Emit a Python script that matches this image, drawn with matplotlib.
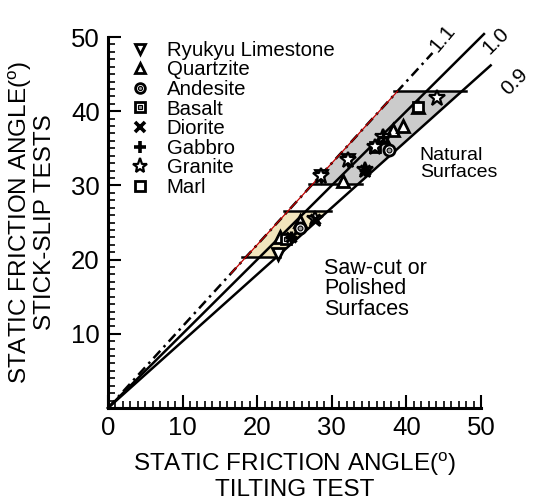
#!/usr/bin/env python3
import numpy as np
import matplotlib
matplotlib.use('agg')
import matplotlib.pyplot as plt
from matplotlib.lines import Line2D

plt.rcParams['font.family'] = ['Liberation Sans', 'DejaVu Sans']
plt.rcParams['mathtext.fontset'] = 'custom'
plt.rcParams['mathtext.rm'] = 'Liberation Sans'

# measured friction angles (tilting test, stick-slip test)
ryukyu_x = [22.8, 28.6, 32.2]
ryukyu_y = [20.8, 31.3, 33.4]
quartz_x = [23.1, 25.7, 31.5, 36.9, 38.2, 39.5, 41.6]
quartz_y = [23.0, 25.2, 30.6, 36.5, 37.4, 38.0, 40.5]
andes_x = [25.7, 37.7]
andes_y = [24.3, 34.8]
basalt_x = [23.9]
basalt_y = [22.8]
diorite_x = [24.6, 27.7, 34.5]
diorite_y = [23.0, 25.5, 32.1]
gabbro_x = [24.6, 34.5, 36.9]
gabbro_y = [23.0, 32.1, 36.5]
granite_x = [27.7, 28.6, 32.2, 34.5, 35.8, 36.9, 44.1]
granite_y = [25.5, 31.3, 33.4, 32.1, 35.2, 36.5, 41.8]
marl_x = [35.8, 41.6]
marl_y = [35.2, 40.5]

# ratio lines and their end points
ratios = [1.1, 1.0, 0.9]
ratio_ends = [43.5, 50.4, 51.3]

# bands: saw-cut (beige) and natural (gray)
sawcut_band = [20.3, 26.5]
natural_band = [30.2, 42.7]

major = np.arange(0, 51, 10)
minor = np.arange(0, 51, 1)

fig = plt.figure(figsize=(5.34, 5.0), dpi=100)
ax = fig.add_axes([0.2022, 0.184, 0.6985, 0.742])

def band(lo, hi, color):
    xs = [lo / 1.1, hi / 1.1, hi / 0.9, lo / 0.9]
    ys = [lo, hi, hi, lo]
    ax.fill(xs, ys, color=color, zorder=1, lw=0)
    ax.plot([lo / 1.1 - 0.5, lo / 0.9 + 0.5], [lo, lo], color='k', lw=1.8, zorder=2)
    ax.plot([hi / 1.1 - 0.5, hi / 0.9 + 0.5], [hi, hi], color='k', lw=1.8, zorder=2)

band(*sawcut_band, '#f1e5bd')
band(*natural_band, '#cbcbcb')

# red guide along the 1.1 line
xr = np.array([16.5, natural_band[1] / 1.1])
ax.plot(xr, 1.1 * xr, color='#c00000', lw=0.9, zorder=3)

for r, xe in zip(ratios, ratio_ends):
    xx = np.array([0, xe])
    ls = (0, (4, 2, 1, 2)) if r == 1.1 else '-'
    ax.plot(xx, r * xx, color='k', lw=1.8, ls=ls, zorder=2.5, clip_on=False)

ax.text(44.8, 49.8, '1.1', fontsize=15, rotation=50, ha='center', va='center')
ax.text(52.0, 49.5, '1.0', fontsize=15, rotation=45, ha='center', va='center')
ax.text(54.5, 44.0, '0.9', fontsize=15, rotation=45, ha='center', va='center')

mk = dict(ls='none', mfc='white', mec='k', mew=2.0, ms=8.5, zorder=5)
ax.plot(ryukyu_x, ryukyu_y, marker='v', **mk)
ax.plot(quartz_x, quartz_y, marker='^', **mk)
ax.plot(marl_x, marl_y, marker='s', **{**mk, 'ms': 7.5})
ax.plot(basalt_x, basalt_y, marker='s', **{**mk, 'ms': 7.5})
ax.plot(basalt_x, basalt_y, marker='s', ls='none', mfc='#999999', mec='k', mew=0.8, ms=3, zorder=6)
ax.plot(andes_x, andes_y, marker='o', **{**mk, 'ms': 8})
ax.plot(andes_x, andes_y, marker='o', ls='none', mfc='#999999', mec='k', mew=0.8, ms=3.5, zorder=6)
ax.plot(granite_x, granite_y, marker='*', **{**mk, 'ms': 12, 'mew': 1.6})
ax.plot(diorite_x, diorite_y, marker='x', ls='none', color='k', mew=2.4, ms=7.5, zorder=7)
ax.plot(gabbro_x, gabbro_y, marker='+', ls='none', color='k', mew=2.4, ms=8, zorder=7)

lg = dict(ls='none', mfc='white', mec='k', mew=2.0, ms=7.5)
handles = [
    Line2D([], [], marker='v', **lg),
    Line2D([], [], marker='^', **lg),
    (Line2D([], [], marker='o', **{**lg, 'ms': 7}),
     Line2D([], [], marker='o', ls='none', mfc='#999999', mec='k', mew=0.8, ms=3)),
    (Line2D([], [], marker='s', **{**lg, 'ms': 6.5}),
     Line2D([], [], marker='s', ls='none', mfc='#999999', mec='k', mew=0.8, ms=3)),
    Line2D([], [], marker='x', ls='none', color='k', mew=2.6, ms=7),
    Line2D([], [], marker='+', ls='none', color='k', mew=2.6, ms=8),
    Line2D([], [], marker='*', **{**lg, 'ms': 11, 'mew': 1.6}),
    Line2D([], [], marker='s', **{**lg, 'ms': 7}),
]
labels = ['Ryukyu Limestone', 'Quartzite', 'Andesite', 'Basalt',
          'Diorite', 'Gabbro', 'Granite', 'Marl']
ax.legend(handles, labels, loc='upper left', bbox_to_anchor=(0.059, 0.99),
          frameon=False, fontsize=14.7, handlelength=1.0, handletextpad=0.8,
          labelspacing=0.03, borderaxespad=0, borderpad=0)

ax.text(41.8, 35.2, 'Natural\nSurfaces', fontsize=14, va='top', ha='left', linespacing=1.0)
ax.text(29.0, 20.2, 'Saw-cut or\nPolished\nSurfaces', fontsize=15.5, va='top', ha='left',
        linespacing=0.95)

ax.set_xlim(0, 50)
ax.set_ylim(0, 50)
ax.set_xticks(major)
ax.set_yticks(major[1:])
ax.tick_params(direction='in', length=0, labelsize=18.5, pad=6)

# inward tick marks along both axes
xt = ax.get_xaxis_transform()
yt = ax.get_yaxis_transform()
ax.vlines(minor, 0, 0.019, transform=xt, color='k', lw=1.2, zorder=9, clip_on=False)
ax.vlines(major, 0, 0.034, transform=xt, color='k', lw=1.5, zorder=9, clip_on=False)
ax.hlines(minor, 0, 0.019, transform=yt, color='k', lw=1.2, zorder=9, clip_on=False)
ax.hlines(major, 0, 0.034, transform=yt, color='k', lw=1.5, zorder=9, clip_on=False)

for s in ['top', 'right']:
    ax.spines[s].set_visible(False)
for s in ['left', 'bottom']:
    ax.spines[s].set_linewidth(2.2)
    ax.spines[s].set_zorder(10)

ax.set_xlabel('STATIC FRICTION ANGLE($^{\\mathregular{o}}$)\nTILTING TEST',
              fontsize=17.5, linespacing=1.05, labelpad=7)
ax.set_ylabel('STATIC FRICTION ANGLE($^{\\mathregular{o}}$)\nSTICK-SLIP TESTS',
              fontsize=17.5, linespacing=1.0, labelpad=11)

fig.savefig('out.png', dpi=100)
